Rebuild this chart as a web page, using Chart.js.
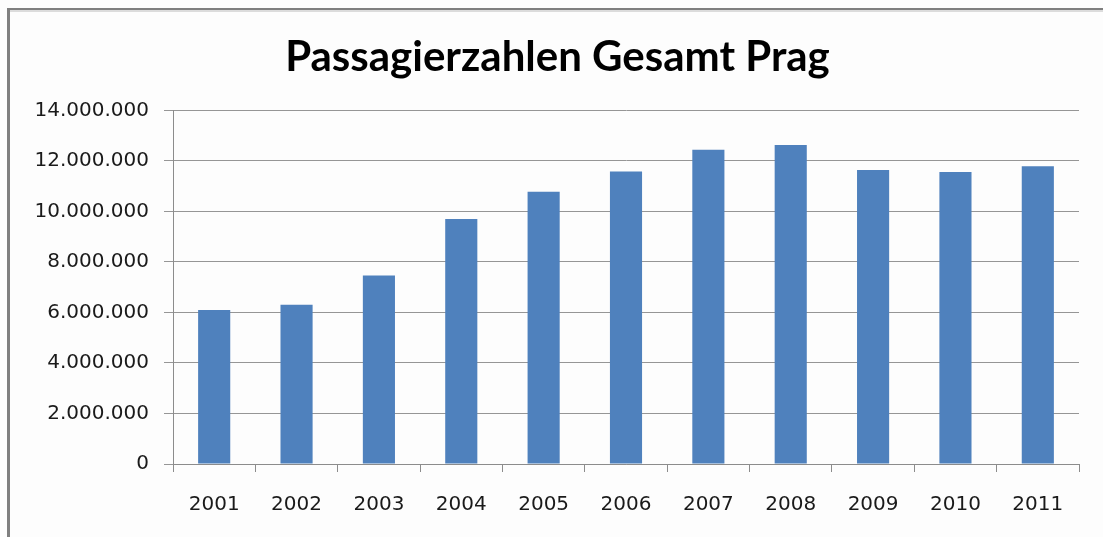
<!DOCTYPE html>
<html>
<head>
<meta charset="utf-8">
<script src="https://cdn.jsdelivr.net/npm/chart.js@4"></script>
<style>
  body { margin: 0; background: #fdfdfd; }
  #wrap { position: relative; width: 1103px; height: 537px; }
  #frame {
    position: absolute; left: 7px; top: 8px; right: 0; bottom: 0;
    border-left: 3px solid #808080; border-top: 2px solid #7f7f7f;
    box-shadow: inset 0 2px 0 #dcdcdc; pointer-events: none;
  }
</style>
</head>
<body>
<div id="wrap">
  <canvas id="chart" width="1103" height="537"></canvas>
  <div id="frame"></div>
</div>
<script>
const years = ["2001", "2002", "2003", "2004", "2005", "2006", "2007", "2008", "2009", "2010", "2011"];
const passengers = [6100000, 6310000, 7460000, 9700000, 10780000, 11580000, 12440000, 12630000, 11640000, 11560000, 11790000];
const yMax = 14000000;
const yStep = 2000000;

function dotted(v) {
    return String(v).replace(/\B(?=(\d{3})+(?!\d))/g, ".");
}

new Chart(document.getElementById("chart"), {
    type: "bar",
    data: {
        labels: years,
        datasets: [{
            data: passengers,
            backgroundColor: "#4f81bd",
            barPercentage: 0.39,
            categoryPercentage: 1
        }]
    },
    options: {
        responsive: false,
        animation: false,
        // left padding is large so the title centre lands where it is in the original
        layout: { padding: { left: 36, right: 24, top: 0, bottom: 0 } },
        plugins: {
            legend: { display: false },
            tooltip: { enabled: false },
            title: {
                display: true,
                text: "Passagierzahlen Gesamt Prag",
                color: "#000",
                font: { family: "Lato", size: 42, weight: "bold" },
                padding: { top: 32, bottom: 28 }
            }
        },
        scales: {
            x: {
                grid: {
                    offset: true,
                    drawOnChartArea: false,
                    drawTicks: true,
                    tickLength: 8,
                    color: "#8c8c8c"
                },
                border: { color: "#8c8c8c" },
                ticks: {
                    color: "#1a1a1a",
                    padding: 21,
                    font: { family: "DejaVu Sans", size: 20 },
                    maxRotation: 0
                },
                afterFit: s => { s.height = 73; }
            },
            y: {
                min: 0,
                max: yMax,
                grid: { color: "#969696", tickLength: 9 },
                border: { color: "#8c8c8c" },
                ticks: {
                    stepSize: yStep,
                    color: "#1a1a1a",
                    padding: 15,
                    font: { family: "DejaVu Sans", size: 20 },
                    callback: v => dotted(v)
                },
                afterFit: s => { s.width = 137; }
            }
        }
    }
});
</script>
</body>
</html>
